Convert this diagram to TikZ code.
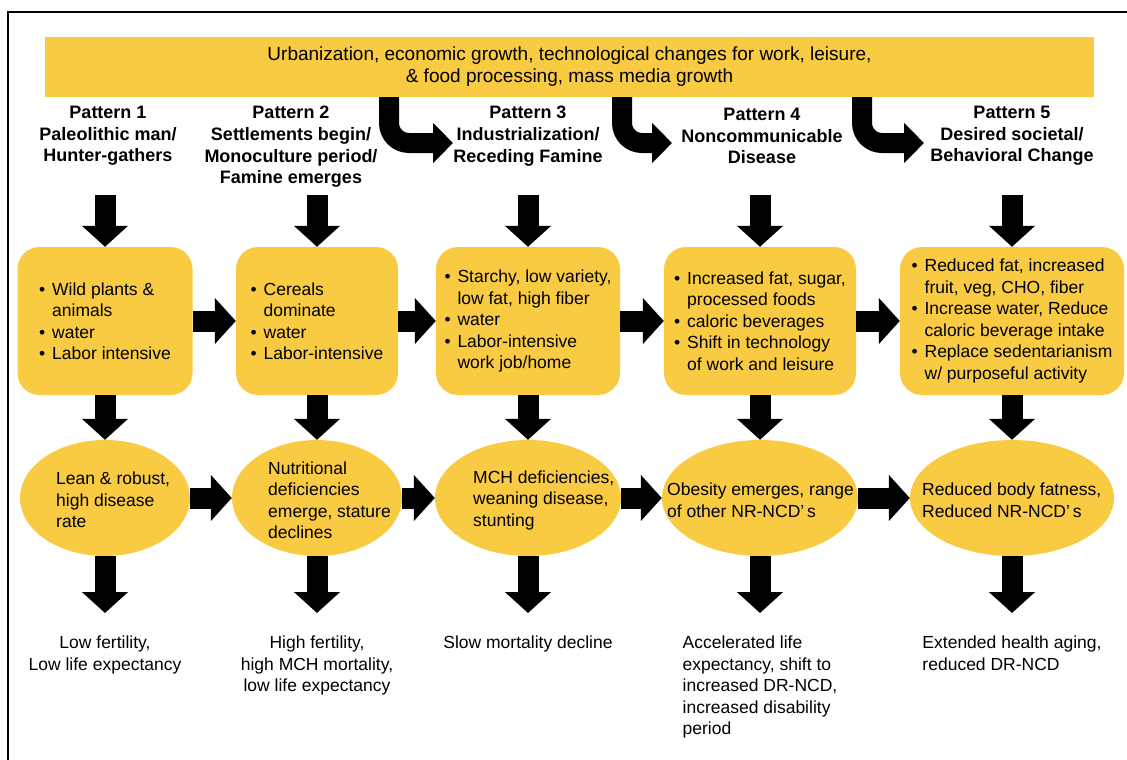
\documentclass[tikz,border=0pt]{standalone}
\usepackage{fontspec}
\setmainfont{Liberation Sans}
\usetikzlibrary{arrows.meta,shapes.geometric}

\definecolor{patyellow}{RGB}{249,203,67}
\newcommand{\bul}{\makebox[13pt][l]{\textbullet}}
\newcommand{\ind}{\hspace*{13pt}}

\tikzset{
  banner/.style={fill=patyellow, minimum width=1049pt, minimum height=60pt, align=center,
                 inner sep=0pt, font=\fontsize{19}{22}\selectfont},
  pathead/.style={align=center, inner sep=0pt, font=\bfseries\fontsize{18}{21.7}\selectfont},
  patbox/.style={fill=patyellow, rounded corners=22pt, minimum height=148pt, align=left, inner sep=0pt},
  state/.style={ellipse, fill=patyellow, minimum height=116pt, inner sep=0pt},
  statetext/.style={anchor=west, align=left, inner sep=0pt},
  result/.style={anchor=north, inner sep=0pt},
  blockarrow/.style={line width=21pt, -{Triangle[length=21pt,width=45pt]}},
  bendarrow/.style={line width=20pt, rounded corners=20pt, -{Triangle[length=20pt,width=39pt]}},
}

\begin{document}
\begin{tikzpicture}[x=1pt, y=-1pt, font=\fontsize{17.5}{21.5}\selectfont]

        \useasboundingbox (0,0) rectangle (1127,760);

        %Frame
        \draw [line width=2pt] (8,760) -- (8,12) -- (1127,12);

        %Drivers banner
        \node [banner] (drivers) at (569.5,67)
              {Urbanization, economic growth, technological changes for work, leisure,\\
               \& food processing, mass media growth};

        %Pattern headings
        \node [pathead] (pat1) at (108,136)  {Pattern 1\\Paleolithic man/\\Hunter-gathers};
        \node [pathead] (pat2) at (291,147)  {Pattern 2\\Settlements begin/\\Monoculture period/\\Famine emerges};
        \node [pathead] (pat3) at (528,136)  {Pattern 3\\Industrialization/\\Receding Famine};
        \node [pathead] (pat4) at (762,136)  {Pattern 4\\Noncommunicable\\Disease};
        \node [pathead] (pat5) at (1012,136) {Pattern 5\\Desired societal/\\Behavioral Change};

        %Shift arrows from the drivers
        \coordinate (tip3) at (453,143);
        \coordinate (tip4) at (672,143);
        \coordinate (tip5) at (924,143);
        \draw [bendarrow] (drivers.south -| 389,0) |- (tip3);
        \draw [bendarrow] (drivers.south -| 622,0) |- (tip4);
        \draw [bendarrow] (drivers.south -| 862,0) |- (tip5);

        %Diet boxes
        \node [patbox, minimum width=175pt] (box1) at (105,321)
              {\bul Wild plants \&\\\ind animals\\\bul water\\\bul Labor intensive};
        \node [patbox, minimum width=162pt] (box2) at (317,321)
              {\bul Cereals\\\ind dominate\\\bul water\\\bul Labor-intensive};
        \node [patbox, minimum width=184pt] (box3) at (528,321)
              {\bul Starchy, low variety,\\\ind low fat, high fiber\\\bul water\\\bul Labor-intensive\\\ind work job/home};
        \node [patbox, minimum width=192pt] (box4) at (760,321)
              {\bul Increased fat, sugar,\\\ind processed foods\\\bul caloric beverages\\\bul Shift in technology\\\ind of work and leisure};
        \node [patbox, minimum width=224pt] (box5) at (1012,321)
              {\bul Reduced fat, increased\\\ind fruit, veg, CHO, fiber\\\bul Increase water, Reduce\\\ind caloric beverage intake\\\bul Replace sedentarianism\\\ind w/ purposeful activity};

        %Health states
        \node [state, minimum width=170pt] (state1) at (105,498)  {};
        \node [state, minimum width=170pt] (state2) at (317,498)  {};
        \node [state, minimum width=186pt] (state3) at (528,498)  {};
        \node [state, minimum width=196pt] (state4) at (760,498)  {};
        \node [state, minimum width=204pt] (state5) at (1012,498) {};

        \node [statetext] (lean)    at (56,500)  {Lean \& robust,\\high disease\\rate};
        \node [statetext] (nutri)   at (268,500) {Nutritional\\deficiencies\\emerge, stature\\declines};
        \node [statetext] (mch)     at (473,500) {MCH deficiencies,\\weaning disease,\\stunting};
        \node [statetext] (obese)   at (667,500) {Obesity emerges, range\\of other NR-NCD’\,s};
        \node [statetext] (lessfat) at (922,500) {Reduced body fatness,\\Reduced NR-NCD’\,s};

        %Outcomes
        \node [result, align=center] (res1) at (105,636)  {Low fertility,\\Low life expectancy};
        \node [result, align=center] (res2) at (317,636)  {High fertility,\\high MCH mortality,\\low life expectancy};
        \node [result]               (res3) at (528,636)  {Slow mortality decline};
        \node [result, align=left]   (res4) at (760,636)  {Accelerated life\\expectancy, shift to\\increased DR-NCD,\\increased disability\\period};
        \node [result, align=left]   (res5) at (1012,636) {Extended health aging,\\reduced DR-NCD};

        %Arrows into the diet boxes
        \coordinate (in1) at (105,195);
        \coordinate (in2) at (317,195);
        \coordinate (in3) at (528,195);
        \coordinate (in4) at (760,195);
        \coordinate (in5) at (1012,195);
        \draw [blockarrow] (in1) -- (box1);
        \draw [blockarrow] (in2) -- (box2);
        \draw [blockarrow] (in3) -- (box3);
        \draw [blockarrow] (in4) -- (box4);
        \draw [blockarrow] (in5) -- (box5);

        %Transitions between boxes
        \draw [blockarrow] (box1) -- (box2);
        \draw [blockarrow] (box2) -- (box3);
        \draw [blockarrow] (box3) -- (box4);
        \draw [blockarrow] (box4) -- (box5);

        %Boxes to health states
        \draw [blockarrow] (box1) -- (state1);
        \draw [blockarrow] (box2) -- (state2);
        \draw [blockarrow] (box3) -- (state3);
        \draw [blockarrow] (box4) -- (state4);
        \draw [blockarrow] (box5) -- (state5);

        %Transitions between health states
        \draw [blockarrow] (state1) -- (state2);
        \draw [blockarrow] (state2) -- (state3);
        \draw [blockarrow] (state3) -- (state4);
        \draw [blockarrow] (state4) -- (state5);

        %Health states to outcomes
        \draw [blockarrow, shorten >=23pt] (state1) -- (res1);
        \draw [blockarrow, shorten >=23pt] (state2) -- (res2);
        \draw [blockarrow, shorten >=23pt] (state3) -- (res3);
        \draw [blockarrow, shorten >=23pt] (state4) -- (res4);
        \draw [blockarrow, shorten >=23pt] (state5) -- (res5);

\end{tikzpicture}
\end{document}
